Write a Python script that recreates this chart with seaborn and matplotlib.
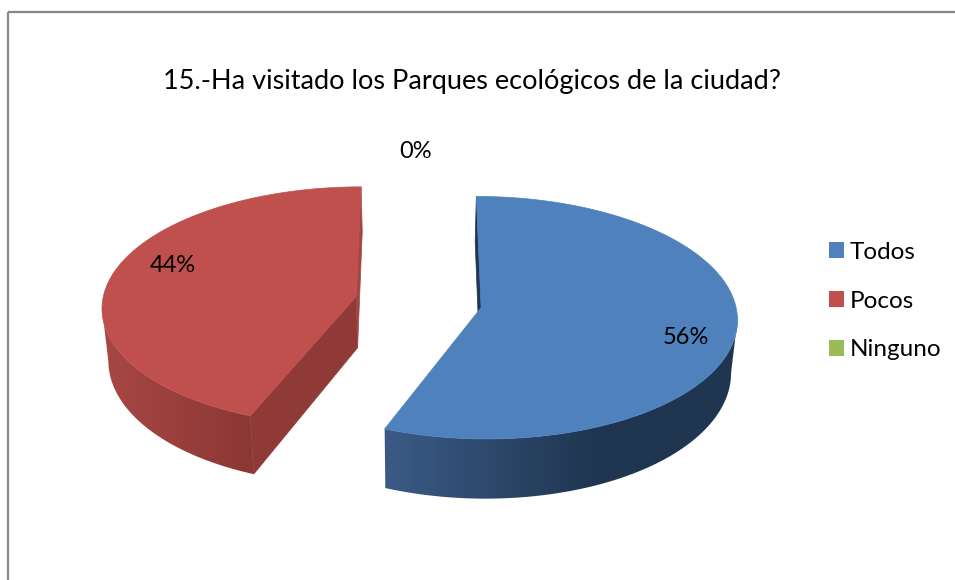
import numpy as np
import matplotlib
matplotlib.use('Agg')
import matplotlib.pyplot as plt
from matplotlib.patches import Patch, Polygon
from matplotlib.colors import to_rgb
import seaborn as sns

categorias = ['Todos', 'Pocos', 'Ninguno']
valores = [56, 44, 0]
titulo = '15.-Ha visitado los Parques ecológicos de la ciudad?'

colores = ['#4F81BD', '#C0504D', '#9BBB59']
# wall gradient (light end, dark end) and the x range it runs over
pared = {0: ('#3A5A85', '#1F3550', 390, 600), 1: ('#A84743', '#8A3735', 105, 255)}
corte = {0: '#1F3550', 1: '#8F3A37'}

sns.set_theme(style='white')
plt.rcParams['font.family'] = ['Lato', 'DejaVu Sans']

fig = plt.figure(figsize=(9.55, 5.8), dpi=100)
ax = fig.add_axes([0, 0, 1, 1])

# projection of the flat pie, the picture is a perspective view
X0, Y0 = 418.5, 302.0
A, B, K = 254.0, 119.5, 0.0826
EXPLOTA = 0.25


def proyecta(u, v):
    s = 1 / (1 + K * v)
    return X0 + A * u * s, Y0 - B * v * s


def baja(x, y):
    # same point on the bottom face of the pie
    return X0 + (x - X0) * 0.98, y + 0.059 * y + 33.8


def gradiente(c1, c2, x1, x2, xs):
    t = np.clip((xs - x1) / (x2 - x1), 0, 1)[None, :, None]
    return np.array(to_rgb(c1))[None, None, :] * (1 - t) + np.array(to_rgb(c2))[None, None, :] * t


total = sum(valores)
inicio = 0.0
for i, val in enumerate(valores):
    if val == 0:
        continue
    fin = inicio + 360.0 * val / total
    medio = np.radians((inicio + fin) / 2)
    ex, ey = EXPLOTA * np.sin(medio), EXPLOTA * np.cos(medio)
    th = np.radians(np.linspace(inicio, fin, 361))
    x, y = proyecta(ex + np.sin(th), ey + np.cos(th))
    xa, ya = proyecta(ex, ey)
    xb, yb = baja(x, y)
    xab, yab = baja(xa, ya)

    # outer wall, only the front part of the arc shows
    if i == 0:
        frente = np.arange(np.argmax(x), len(x))
    else:
        frente = np.arange(0, np.argmin(x) + 1)
    fx, fy, fxb, fyb = x[frente], y[frente], xb[frente], yb[frente]
    c1, c2, x1, x2 = pared[i]
    xs = np.arange(np.floor(min(fx.min(), fxb.min())), np.ceil(max(fx.max(), fxb.max())) + 1)
    img = ax.imshow(gradiente(c1, c2, x1, x2, xs), aspect='auto', zorder=2, interpolation='bilinear',
                    extent=(xs[0], xs[-1], fyb.max() + 1, fy.min() - 1))
    muro = Polygon(np.c_[np.r_[fx, fxb[::-1]], np.r_[fy, fyb[::-1]]], closed=True, transform=ax.transData)
    img.set_clip_path(muro)

    # cut walls
    ax.fill([x[0], xa, xab, xb[0]], [y[0], ya, yab, yb[0]], color=corte[i], lw=0.5, zorder=3)
    if i == 1:
        ax.fill([x[-1], xa, xab, xb[-1]], [y[-1], ya, yab, yb[-1]], color='#A34542', lw=0.5, zorder=3)

    # top face
    ax.fill(np.r_[xa, x], np.r_[ya, y], color=colores[i], lw=0.5, zorder=4)
    inicio = fin

# labels
etiquetas = [f'{v}%' for v in valores]
pos_etiquetas = [(686, 338), (173, 266), (416, 152)]
for txt, (px, py) in zip(etiquetas, pos_etiquetas):
    ax.text(px, py, txt, fontsize=17, color='black', ha='center', va='center', zorder=5)

ax.text(472, 81, titulo, fontsize=19.5, color='black', ha='center', va='center')

# chart border, it is cut by the image on the right and bottom
ax.plot([8, 8], [12, 580], color='#8A8A8A', lw=1.6, solid_capstyle='butt', clip_on=False)
ax.plot([8, 955], [12, 12], color='#868686', lw=1.6, solid_capstyle='butt', clip_on=False)

ax.set_xlim(0, 955)
ax.set_ylim(580, 0)
ax.axis('off')

marcas = [Patch(facecolor=c, edgecolor='none', label=n) for c, n in zip(colores, categorias)]
ax.legend(handles=marcas, loc='center left', bbox_to_anchor=(829 / 955, 1 - 301 / 580), frameon=False,
          fontsize=17.5, handlelength=0.62, handleheight=0.62, handletextpad=0.22,
          labelspacing=1.15, borderpad=0, borderaxespad=0, labelcolor='black')

fig.savefig('out.png', dpi=100, facecolor='white')
